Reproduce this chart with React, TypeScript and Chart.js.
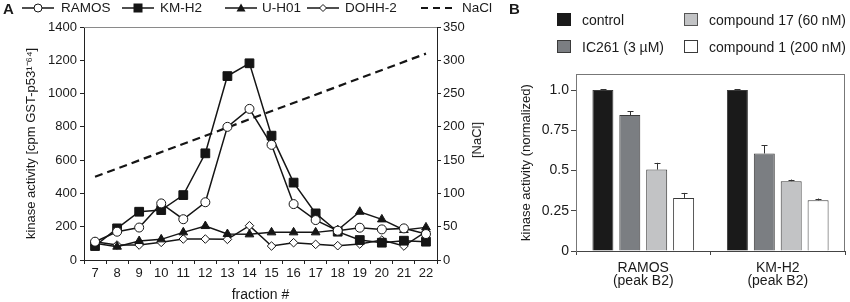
import React, { useEffect, useRef } from "react";
import { Chart, registerables } from "chart.js";

Chart.register(...registerables);

// ---------- Panel A data ----------
const fractions = ["7", "8", "9", "10", "11", "12", "13", "14", "15", "16", "17", "18", "19", "20", "21", "22"];
const ramos = [110, 170, 195, 340, 245, 347, 800, 908, 692, 336, 240, 176, 194, 184, 190, 156];
const kmh2 = [84, 190, 290, 300, 390, 641, 1105, 1182, 747, 465, 280, 170, 120, 104, 116, 110];
const uh01 = [100, 80, 114, 124, 166, 204, 156, 154, 166, 166, 166, 180, 290, 244, 180, 196];
const dohh2 = [110, 90, 90, 106, 126, 126, 124, 206, 84, 104, 94, 86, 96, 120, 84, 170];
const nacl = [125, null, null, null, null, null, null, null, null, null, null, null, null, null, null, 310];
const leftTicksMax = 1400;
const leftStep = 200;
const rightTicksMax = 350;
const rightStep = 50;

// ---------- Panel B data ----------
const cellLines = [["RAMOS", "(peak B2)"], ["KM-H2", "(peak B2)"]];
const treatments = ["control", "IC261 (3 µM)", "compound 17 (60 nM)", "compound 1 (200 nM)"];
const controlVals = [1.0, 1.0];
const ic261Vals = [0.845, 0.606];
const c17Vals = [0.506, 0.434];
const c1Vals = [0.33, 0.315];
const controlErr = [0.004, 0.004];
const ic261Err = [0.022, 0.052];
const c17Err = [0.042, 0.01];
const c1Err = [0.031, 0.011];
const bTickValues = [0, 0.25, 0.5, 0.75, 1.0];
const bTickLabels = ["0", "0.25", "0.5", "0.75", "1.0"];

const FONT = "'Liberation Sans', Arial, Helvetica, sans-serif";
const TXT = "#1a1a1a";

const topBorderPlugin = {
  id: "topBorder",
  afterDraw(chart: any, _args: any, opts: any) {
    const { ctx, chartArea } = chart;
    ctx.save();
    ctx.strokeStyle = opts.color || "#888";
    ctx.lineWidth = 1;
    ctx.beginPath();
    ctx.moveTo(chartArea.left, chartArea.top + 0.5);
    ctx.lineTo(chartArea.right, chartArea.top + 0.5);
    if (opts.right) {
      ctx.moveTo(chartArea.right - 0.5, chartArea.top);
      ctx.lineTo(chartArea.right - 0.5, chartArea.bottom);
    }
    ctx.stroke();
    ctx.restore();
  },
};

const errorBarPlugin = {
  id: "errorBars",
  afterDatasetsDraw(chart: any) {
    const { ctx } = chart;
    const yScale = chart.scales.y;
    ctx.save();
    ctx.strokeStyle = "#333";
    ctx.lineWidth = 1;
    chart.data.datasets.forEach((ds: any, di: number) => {
      const meta = chart.getDatasetMeta(di);
      meta.data.forEach((bar: any, i: number) => {
        const v = ds.data[i];
        const e = ds.errors[i];
        const yTop = yScale.getPixelForValue(v + e);
        const yBar = yScale.getPixelForValue(v);
        const x = Math.round(bar.x) + 0.5;
        ctx.beginPath();
        ctx.moveTo(x, yBar);
        ctx.lineTo(x, yTop);
        ctx.moveTo(x - 3, Math.round(yTop) + 0.5);
        ctx.lineTo(x + 3, Math.round(yTop) + 0.5);
        ctx.stroke();
      });
    });
    ctx.restore();
  },
};

function PanelA() {
  const ref = useRef<HTMLCanvasElement | null>(null);
  useEffect(() => {
    if (!ref.current) return;
    const tickFont = { family: FONT, size: 13 };
    const line = "#151515";
    const chart = new Chart(ref.current, {
      type: "line",
      data: {
        labels: fractions,
        datasets: [
          {
            label: "RAMOS", data: ramos, yAxisID: "y", borderColor: line, borderWidth: 1.5,
            pointStyle: "circle", pointRadius: 4.5, pointBackgroundColor: "#fff", pointBorderColor: line, pointBorderWidth: 1,
          },
          {
            label: "KM-H2", data: kmh2, yAxisID: "y", borderColor: line, borderWidth: 1.5,
            pointStyle: "rect", pointRadius: 6.2, pointBackgroundColor: line, pointBorderColor: line, pointBorderWidth: 1,
          },
          {
            label: "U-H01", data: uh01, yAxisID: "y", borderColor: line, borderWidth: 1.5,
            pointStyle: "triangle", pointRadius: 5, pointBackgroundColor: line, pointBorderColor: line, pointBorderWidth: 1,
          },
          {
            label: "DOHH-2", data: dohh2, yAxisID: "y", borderColor: line, borderWidth: 1.5,
            pointStyle: "rectRot", pointRadius: 4.3, pointBackgroundColor: "#fff", pointBorderColor: line, pointBorderWidth: 1,
          },
          {
            label: "NaCl", data: nacl, yAxisID: "y1", borderColor: line, borderWidth: 2.2, borderDash: [8, 5],
            pointRadius: 0, spanGaps: true,
          },
        ],
      } as any,
      options: {
        animation: false,
        responsive: false,
        maintainAspectRatio: false,
        layout: { padding: { top: 27, left: 0, right: 0, bottom: 0 } },
        plugins: { legend: { display: false }, tooltip: { enabled: false }, topBorder: { color: "#8a8a8a" } } as any,
        scales: {
          x: {
            offset: true,
            grid: { offset: true, drawOnChartArea: false, tickLength: 4, color: "#222" },
            border: { color: "#222", width: 1 },
            ticks: { padding: 2, font: tickFont, color: TXT, maxRotation: 0, autoSkip: false },
            title: { display: true, text: "fraction #", color: TXT, font: { family: FONT, size: 14, lineHeight: 1 }, padding: { top: 0, bottom: 0 } },
            afterFit: (s: any) => { s.height = 42; },
          },
          y: {
            position: "left",
            min: 0,
            max: leftTicksMax,
            grid: { drawOnChartArea: false, tickLength: 4, color: "#222" },
            border: { color: "#222", width: 1 },
            ticks: { stepSize: leftStep, padding: 3, font: tickFont, color: TXT, callback: (v: any) => String(v) },
            title: {
              display: true, text: "kinase activity [cpm GST-p53¹⁻⁶⁴]", color: TXT,
              font: { family: FONT, size: 13 }, padding: { top: 24, bottom: 0 },
            },
            afterFit: (s: any) => { s.width = 84; },
          },
          y1: {
            position: "right",
            min: 0,
            max: rightTicksMax,
            grid: { drawOnChartArea: false, tickLength: 4, color: "#222" },
            border: { color: "#222", width: 1 },
            ticks: { stepSize: rightStep, padding: 2, font: tickFont, color: TXT, callback: (v: any) => String(v) },
            afterFit: (s: any) => { s.width = 63; },
          },
        },
      } as any,
      plugins: [topBorderPlugin],
    });
    return () => chart.destroy();
  }, []);
  return <canvas ref={ref} width={500} height={302} style={{ position: "absolute", left: 0, top: 0, width: 500, height: 302 }} />;
}

function PanelB() {
  const ref = useRef<HTMLCanvasElement | null>(null);
  useEffect(() => {
    if (!ref.current) return;
    const border = "#3a3a3a";
    const mk = (label: string, data: number[], errors: number[], bg: string) => ({
      label, data, errors, backgroundColor: bg, borderColor: border, borderWidth: 1,
      categoryPercentage: 0.8, barPercentage: 0.78,
    });
    const chart = new Chart(ref.current, {
      type: "bar",
      data: {
        labels: cellLines,
        datasets: [
          mk(treatments[0], controlVals, controlErr, "#1a1a1a"),
          mk(treatments[1], ic261Vals, ic261Err, "#7b7e82"),
          mk(treatments[2], c17Vals, c17Err, "#c2c3c5"),
          mk(treatments[3], c1Vals, c1Err, "#ffffff"),
        ],
      } as any,
      options: {
        animation: false,
        responsive: false,
        maintainAspectRatio: false,
        layout: { padding: { top: 74, right: 5, left: 0, bottom: 0 } },
        plugins: { legend: { display: false }, tooltip: { enabled: false }, topBorder: { color: "#777", right: true } } as any,
        scales: {
          x: {
            grid: { offset: true, drawOnChartArea: false, tickLength: 4, color: "#444" },
            border: { color: "#444", width: 1 },
            ticks: { padding: 6, color: TXT, font: { family: FONT, size: 14, lineHeight: 0.95 }, maxRotation: 0 },
            afterFit: (s: any) => { s.height = 51; },
          },
          y: {
            min: 0,
            max: 1.1,
            afterBuildTicks: (s: any) => { s.ticks = bTickValues.map((v) => ({ value: v })); },
            grid: { drawOnChartArea: false, tickLength: 5, color: "#444" },
            border: { color: "#777", width: 1 },
            ticks: {
              padding: 2, color: TXT, font: { family: FONT, size: 14 },
              callback: (v: any) => { const i = bTickValues.indexOf(Number(v)); return i >= 0 ? bTickLabels[i] : ""; },
            },
            title: {
              display: true, text: "kinase activity (normalized)", color: TXT,
              font: { family: FONT, size: 13 }, padding: { top: 19, bottom: 0 },
            },
            afterFit: (s: any) => { s.width = 76; },
          },
        },
      } as any,
      plugins: [errorBarPlugin, topBorderPlugin],
    });
    return () => chart.destroy();
  }, []);
  return <canvas ref={ref} width={350} height={302} style={{ position: "absolute", left: 500, top: 0, width: 350, height: 302 }} />;
}

function Symbol({ kind }: { kind: string }) {
  const c = "#151515";
  return (
    <svg width={32} height={12} style={{ display: "block" }}>
      {kind === "dash" ? (
        <line x1={0} y1={6} x2={32} y2={6} stroke={c} strokeWidth={2.2} strokeDasharray="7 5" />
      ) : (
        <line x1={0} y1={6} x2={32} y2={6} stroke={c} strokeWidth={1.5} />
      )}
      {kind === "circle" && <circle cx={16} cy={6} r={4} fill="#fff" stroke={c} strokeWidth={1} />}
      {kind === "rect" && <rect x={11.5} y={1.5} width={9} height={9} fill={c} />}
      {kind === "triangle" && <polygon points="16,1.5 20.5,9.5 11.5,9.5" fill={c} />}
      {kind === "rectRot" && <polygon points="16,2.5 19.5,6 16,9.5 12.5,6" fill="#fff" stroke={c} strokeWidth={1} />}
    </svg>
  );
}

const legendA = [
  { kind: "circle", label: "RAMOS", x: 22, tx: 61 },
  { kind: "rect", label: "KM-H2", x: 122, tx: 160 },
  { kind: "triangle", label: "U-H01", x: 225, tx: 262 },
  { kind: "rectRot", label: "DOHH-2", x: 307, tx: 345 },
  { kind: "dash", label: "NaCl", x: 421, tx: 462 },
];

const legendB = [
  { label: treatments[0], color: "#1a1a1a", border: "#1a1a1a", x: 557, y: 13 },
  { label: treatments[1], color: "#7b7e82", border: "#3a3a3a", x: 557, y: 40 },
  { label: treatments[2], color: "#c2c3c5", border: "#555", x: 684, y: 13 },
  { label: treatments[3], color: "#ffffff", border: "#3a3a3a", x: 684, y: 40 },
];

export default function App() {
  return (
    <div style={{ position: "absolute", left: 0, top: 0, width: 850, height: 302, background: "#fff", fontFamily: FONT, color: TXT, overflow: "hidden" }}>
      <PanelA />
      <PanelB />
      <div style={{ position: "absolute", left: 3, top: 0, fontSize: 15, fontWeight: "bold", lineHeight: "17px" }}>A</div>
      <div style={{ position: "absolute", left: 509, top: 0, fontSize: 15, fontWeight: "bold", lineHeight: "17px" }}>B</div>
      {legendA.map((it) => (
        <React.Fragment key={it.label}>
          <div style={{ position: "absolute", left: it.x, top: 2 }}><Symbol kind={it.kind} /></div>
          <div style={{ position: "absolute", left: it.tx, top: 0, fontSize: 13.5, lineHeight: "16px", whiteSpace: "nowrap" }}>{it.label}</div>
        </React.Fragment>
      ))}
      <div style={{ position: "absolute", left: 477, top: 140, width: 0, height: 0 }}>
        <div style={{ position: "absolute", left: 0, top: 0, transform: "translate(-50%, -50%) rotate(-90deg)", fontSize: 13, lineHeight: "16px", whiteSpace: "nowrap" }}>[NaCl]</div>
      </div>
      {legendB.map((it) => (
        <React.Fragment key={it.label}>
          <div style={{ position: "absolute", left: it.x, top: it.y, width: 12, height: 11, background: it.color, border: `1px solid ${it.border}` }} />
          <div style={{ position: "absolute", left: it.x + 25, top: it.y - 1, fontSize: 14, lineHeight: "16px", whiteSpace: "nowrap" }}>{it.label}</div>
        </React.Fragment>
      ))}
    </div>
  );
}
